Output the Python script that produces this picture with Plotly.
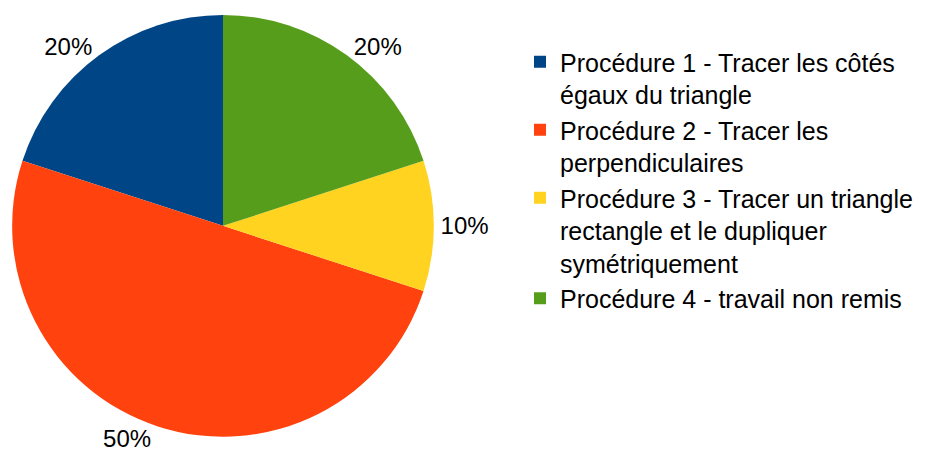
import plotly.graph_objects as go

labels = [
    "Procédure 1 - Tracer les côtés<br>égaux du triangle",
    "Procédure 2 - Tracer les<br>perpendiculaires",
    "Procédure 3 - Tracer un triangle<br>rectangle et le dupliquer<br>symétriquement",
    "Procédure 4 - travail non remis",
]
values = [2, 5, 1, 2]
colors = ["#004586", "#ff420e", "#ffd320", "#579d1c"]

# page has an 8px body margin; figure sized so it fits the 926x464 window
W, H = 918, 456
FONT = "Liberation Sans, Arial, sans-serif"

fig = go.Figure(go.Pie(
    labels=labels,
    values=values,
    sort=False,
    direction="counterclockwise",
    rotation=-72,
    automargin=False,
    marker=dict(colors=colors, line=dict(width=0)),
    texttemplate="%{percent:.0%}",
    textposition="outside",
    outsidetextfont=dict(family=FONT, size=24, color="#000000"),
    domain=dict(x=[4 / W, 426 / W], y=[(H - 428.7) / H, (H - 7) / H]),
    hoverinfo="label+percent",
))

fig.update_layout(
    width=W,
    height=H,
    margin=dict(l=0, r=0, t=0, b=0, autoexpand=False),
    paper_bgcolor="#ffffff",
    plot_bgcolor="#ffffff",
    font=dict(family=FONT, size=25, color="#000000"),
    showlegend=True,
    legend=dict(
        x=512 / W,
        xanchor="left",
        y=1 - 31 / H,
        yanchor="top",
        valign="top",
        font=dict(family=FONT, size=25, color="#000000"),
        bgcolor="rgba(0,0,0,0)",
    ),
)

fig.write_html("out.html")
